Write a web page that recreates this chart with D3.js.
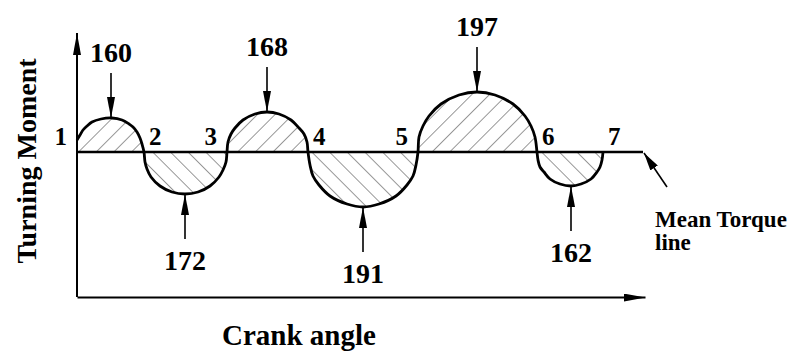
<!DOCTYPE html>
<html>
<head>
<meta charset="utf-8">
<script src="https://cdn.jsdelivr.net/npm/d3@7"></script>
<style>
  body { margin: 0; background: #fff; }
  svg { display: block; }
  text { font-family: "Liberation Serif", "Times New Roman", serif; font-weight: bold; fill: #000; }
</style>
</head>
<body>
<svg id="chart" width="790" height="354"></svg>
<script>
const curveAngle = [0, 3, 6, 10, 15, 24, 35, 45, 52, 56, 60, 63, 65, 67,
  68, 70, 74, 83, 95, 108, 121, 133, 142, 146, 149, 150,
  151, 154, 158, 166, 178, 190, 202, 214, 222, 227, 230, 231,
  233, 236, 242, 253, 270, 286, 302, 319, 330, 336, 339, 341,
  342, 346, 352, 364, 382, 400, 418, 436, 448, 454, 458, 460,
  461, 463, 467, 473, 483, 494, 504, 514, 520, 523, 525, 526];
const curveMoment = [12, 17, 22, 26, 30, 33, 34, 32, 28, 25, 20, 14, 8, 0,
  -10, -17, -25, -34, -40, -42, -40, -34, -25, -18, -10, 0,
  10, 18, 24, 32, 38, 40, 38, 32, 24, 18, 10, 0,
  -13, -24, -33, -44, -52, -55, -52, -44, -33, -24, -13, 0,
  15, 26, 36, 48, 57, 60, 57, 48, 36, 26, 15, 0,
  -8, -15, -20, -27, -32, -34, -32, -27, -20, -15, -8, 0];

const crossAngle = [0, 67, 150, 231, 341, 460, 526];
const crossLabels = ['1', '2', '3', '4', '5', '6', '7'];
const crossSide = [-1, 1, -1, 1, -1, 1, 1]; // -1 izquierda, 1 derecha

const peakAngle = [34, 108, 190, 286, 400, 494];
const peakMoment = [34, -42, 40, -55, 60, -34];
const peakLabels = ['160', '172', '168', '191', '197', '162'];

const meanEnd = 566;

// Escalas
const x = d3.scaleLinear().domain([0, 568]).range([77, 645]);
const y = d3.scaleLinear().domain([-145, 119]).range([297, 33]);

const svg = d3.select('#chart');
const defs = svg.append('defs');

// Marcadores de flecha
function marcador(id, largo, ancho) {
  defs.append('marker')
    .attr('id', id)
    .attr('markerUnits', 'userSpaceOnUse')
    .attr('viewBox', `0 0 ${largo} ${ancho}`)
    .attr('markerWidth', largo)
    .attr('markerHeight', ancho)
    .attr('refX', largo)
    .attr('refY', ancho / 2)
    .attr('orient', 'auto')
    .append('path')
    .attr('d', `M0,0L${largo},${ancho / 2}L0,${ancho}Z`)
    .attr('fill', '#000');
}
marcador('flecha', 21, 8);
marcador('flechaEje', 22, 8);
marcador('flechaMedia', 18, 9);

// Patrones de rayado
function rayado(id, angulo) {
  const p = defs.append('pattern')
    .attr('id', id)
    .attr('patternUnits', 'userSpaceOnUse')
    .attr('width', 12.5)
    .attr('height', 12.5)
    .attr('patternTransform', `rotate(${angulo})`);
  p.append('line')
    .attr('x1', 0).attr('y1', 0).attr('x2', 0).attr('y2', 12.5)
    .attr('stroke', '#444')
    .attr('stroke-width', 1.1);
}
rayado('rayaArriba', 45);
rayado('rayaAbajo', -45);

defs.append('clipPath').attr('id', 'clipArriba')
  .append('rect').attr('x', 0).attr('y', 0).attr('width', 790).attr('height', y(0));
defs.append('clipPath').attr('id', 'clipAbajo')
  .append('rect').attr('x', 0).attr('y', y(0)).attr('width', 790).attr('height', 354 - y(0));

const puntos = curveAngle.map((a, i) => [a, curveMoment[i]]);

const curva = d3.curveCatmullRom.alpha(0.5);

const area = d3.area()
  .x(d => x(d[0]))
  .y0(y(0))
  .y1(d => y(d[1]))
  .curve(curva);

const linea = d3.line()
  .x(d => x(d[0]))
  .y(d => y(d[1]))
  .curve(curva);

svg.append('path').datum(puntos)
  .attr('d', area)
  .attr('fill', 'url(#rayaArriba)')
  .attr('clip-path', 'url(#clipArriba)');
svg.append('path').datum(puntos)
  .attr('d', area)
  .attr('fill', 'url(#rayaAbajo)')
  .attr('clip-path', 'url(#clipAbajo)');

// Ejes
const ejeX = svg.append('g')
  .attr('transform', `translate(0,${y(y.domain()[0])})`)
  .call(d3.axisBottom(x).tickValues([]).tickSizeOuter(0));
ejeX.select('.domain')
  .attr('stroke-width', 2)
  .attr('marker-end', 'url(#flechaEje)');

const ejeY = svg.append('g')
  .attr('transform', `translate(${x(0)},0)`)
  .call(d3.axisLeft(y).tickValues([]).tickSizeOuter(0));
ejeY.select('.domain')
  .attr('d', `M0,${y(y.domain()[0])}V${y(y.domain()[1])}`)
  .attr('stroke-width', 2)
  .attr('marker-end', 'url(#flechaEje)');

// Linea de par medio
svg.append('line')
  .attr('x1', x(0)).attr('x2', x(meanEnd))
  .attr('y1', y(0)).attr('y2', y(0))
  .attr('stroke', '#000')
  .attr('stroke-width', 2.6);

// Curva del momento
svg.append('path').datum(puntos)
  .attr('d', linea)
  .attr('fill', 'none')
  .attr('stroke', '#000')
  .attr('stroke-width', 2.8);

// Etiquetas de los cruces
svg.selectAll('.cruce')
  .data(crossAngle)
  .enter()
  .append('text')
  .attr('class', 'cruce')
  .attr('x', (d, i) => x(d) + (crossSide[i] > 0 ? 5 : -10))
  .attr('y', y(0) - 7)
  .attr('text-anchor', (d, i) => crossSide[i] > 0 ? 'start' : 'end')
  .style('font-size', '25px')
  .text((d, i) => crossLabels[i]);

// Flechas a los picos
const largoFlecha = 45;
peakAngle.forEach((a, i) => {
  const v = peakMoment[i];
  const s = v > 0 ? -1 : 1; // hacia arriba o hacia abajo del pico
  const px = x(a);
  const py = y(v);
  const cola = py + s * largoFlecha;
  svg.append('line')
    .attr('x1', px).attr('y1', cola)
    .attr('x2', px).attr('y2', py)
    .attr('stroke', '#000')
    .attr('stroke-width', 1.6)
    .attr('marker-end', 'url(#flecha)');
  svg.append('text')
    .attr('x', px)
    .attr('y', s < 0 ? cola - 11 : cola + 31)
    .attr('text-anchor', 'middle')
    .style('font-size', '28px')
    .text(peakLabels[i]);
});

// Flecha que señala la linea de par medio
svg.append('line')
  .attr('x1', x(meanEnd) + 24).attr('y1', y(0) + 35)
  .attr('x2', x(meanEnd) + 1).attr('y2', y(0) + 1)
  .attr('stroke', '#000')
  .attr('stroke-width', 1.6)
  .attr('marker-end', 'url(#flechaMedia)');

svg.append('text')
  .attr('x', 655).attr('y', 227)
  .style('font-size', '23px')
  .text('Mean Torque');
svg.append('text')
  .attr('x', 655).attr('y', 250)
  .style('font-size', '23px')
  .text('line');

// Titulos de los ejes
svg.append('text')
  .attr('transform', 'translate(36,161) rotate(-90)')
  .attr('text-anchor', 'middle')
  .style('font-size', '28px')
  .text('Turning Moment');

svg.append('text')
  .attr('x', 299).attr('y', 345)
  .attr('text-anchor', 'middle')
  .style('font-size', '29px')
  .text('Crank angle');
</script>
</body>
</html>
